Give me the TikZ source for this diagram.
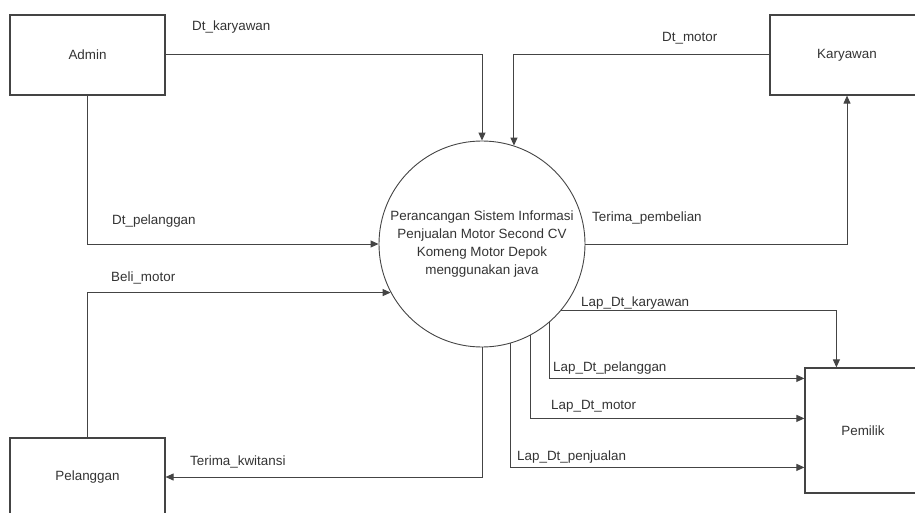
\documentclass[tikz,border=0pt]{standalone}
\usepackage{fontspec}
\setmainfont{Liberation Sans}
\usetikzlibrary{arrows.meta,calc}
\definecolor{linec}{HTML}{444444}
\definecolor{txtc}{HTML}{333333}
\begin{document}
\begin{tikzpicture}[x=1pt,y=-1pt,
  ent/.style={draw=linec, line width=1.2pt, minimum width=155pt, minimum height=80pt, inner sep=0pt, text=txtc, font=\fontsize{13.4}{18}\selectfont},
  proc/.style={draw=linec, line width=0.9pt, circle, minimum size=206pt, inner sep=0pt, align=center, text=txtc, font=\fontsize{13.4}{18}\selectfont},
  flow/.style={draw=linec, line width=1pt, -{Triangle[length=8pt,width=7pt]}},
  lbl/.style={anchor=west, inner sep=0pt, text=txtc, font=\fontsize{13.4}{18}\selectfont}]
\useasboundingbox (0,0) rectangle (915,513);
\clip (0,0) rectangle (915,513);
\node[ent] (admin) at (87.5,55) {Admin};
\node[ent, minimum width=154pt] (kary) at (847,55) {Karyawan};
\node[ent, minimum width=116pt, minimum height=125pt] (pem) at (863,430.5) {Pemilik};
\node[ent, minimum height=78pt] (pel) at (87.5,477) {Pelanggan};
\node[proc] (proc) at (482,244) {Perancangan Sistem Informasi\\Penjualan Motor Second CV\\Komeng Motor Depok\\menggunakan java};
\draw[flow] (admin.east) -| (proc.north);
\draw[flow] (kary.west) -| (proc.72);
\draw[flow] (admin.south) |- (proc.west);
\draw[flow] (proc.east) -| (kary.south);
\draw[flow] (pel.north) |- (proc.208);
\draw[flow] (proc.south) |- (pel.east);
\draw[flow] (proc.320) -| ($(pem.north west)+(32,0)$);
\draw[flow] (proc.311) |- ($(pem.north west)+(0,11)$);
\draw[flow] (proc.298) |- ($(pem.north west)+(0,51)$);
\draw[flow] (proc.286) |- ($(pem.north west)+(0,100)$);
\node[lbl] (lkar) at (192,27) {Dt\_karyawan};
\node[lbl] (lmot) at (662,38) {Dt\_motor};
\node[lbl] (lpel) at (112,221) {Dt\_pelanggan};
\node[lbl] (lbeli) at (111,278) {Beli\_motor};
\node[lbl] (lterp) at (592,218) {Terima\_pembelian};
\node[lbl] (lkwi) at (190,462) {Terima\_kwitansi};
\node[lbl] (llk) at (581,303) {Lap\_Dt\_karyawan};
\node[lbl] (llp) at (553,368) {Lap\_Dt\_pelanggan};
\node[lbl] (llm) at (551,406) {Lap\_Dt\_motor};
\node[lbl] (llj) at (517,457) {Lap\_Dt\_penjualan};
\end{tikzpicture}
\end{document}
